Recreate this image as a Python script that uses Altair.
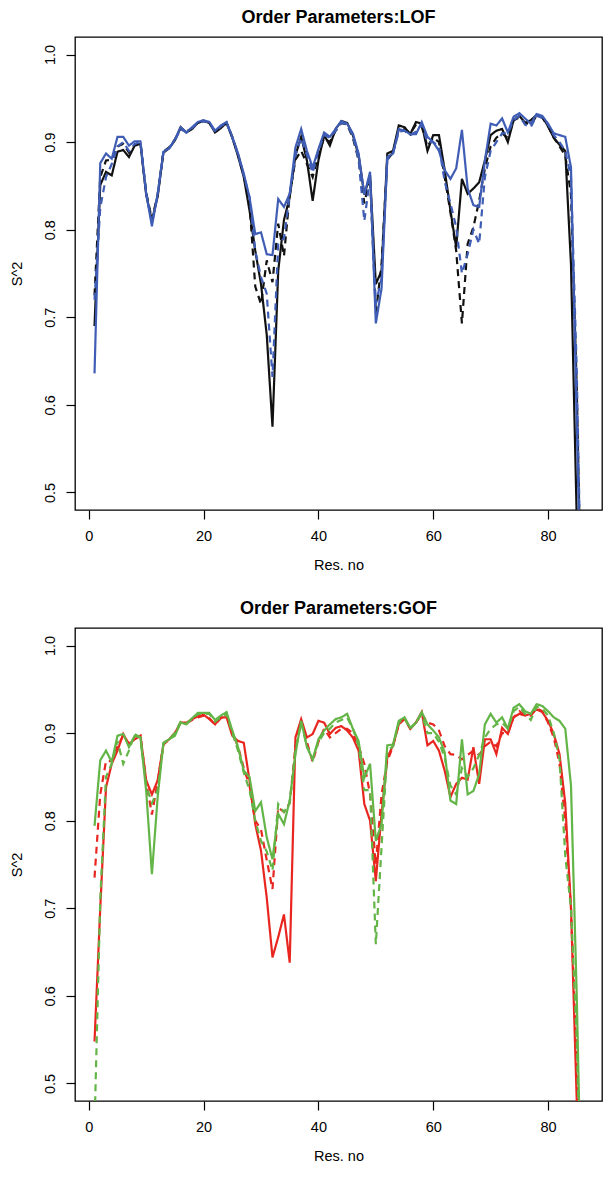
import altair as alt
import pandas as pd

res = list(range(1, 87))

lof_black_solid = [
    0.690, 0.851, 0.866, 0.862, 0.889, 0.891, 0.883, 0.896, 0.898, 0.840,
    0.810, 0.838, 0.888, 0.893, 0.902, 0.917, 0.911, 0.915, 0.922, 0.924,
    0.922, 0.911, 0.916, 0.922, 0.905, 0.884, 0.860, 0.822, 0.776, 0.738,
    0.680, 0.575, 0.753, 0.811, 0.837, 0.885, 0.906, 0.879, 0.833, 0.879,
    0.908, 0.896, 0.915, 0.924, 0.922, 0.908, 0.885, 0.840, 0.862, 0.738,
    0.753, 0.887, 0.890, 0.919, 0.917, 0.909, 0.923, 0.921, 0.890, 0.908,
    0.908, 0.868, 0.822, 0.780, 0.858, 0.841, 0.847, 0.854, 0.879, 0.908,
    0.913, 0.915, 0.900, 0.925, 0.930, 0.922, 0.925, 0.931, 0.929, 0.918,
    0.905, 0.897, 0.890, 0.760, 0.470, 0.300]
lof_black_dashed = [
    0.725, 0.860, 0.879, 0.880, 0.895, 0.898, 0.888, 0.897, 0.899, 0.842,
    0.812, 0.840, 0.889, 0.894, 0.903, 0.916, 0.912, 0.916, 0.922, 0.925,
    0.922, 0.912, 0.917, 0.922, 0.906, 0.886, 0.862, 0.830, 0.735, 0.715,
    0.765, 0.740, 0.807, 0.770, 0.840, 0.880, 0.890, 0.875, 0.860, 0.885,
    0.905, 0.900, 0.913, 0.922, 0.920, 0.905, 0.880, 0.830, 0.860, 0.705,
    0.760, 0.880, 0.888, 0.915, 0.915, 0.910, 0.920, 0.918, 0.895, 0.905,
    0.900, 0.860, 0.820, 0.776, 0.693, 0.784, 0.803, 0.833, 0.870, 0.895,
    0.905, 0.910, 0.905, 0.925, 0.928, 0.922, 0.920, 0.930, 0.928, 0.918,
    0.905, 0.895, 0.885, 0.840, 0.620, 0.300]
lof_blue_solid = [
    0.636, 0.876, 0.887, 0.881, 0.906, 0.906, 0.896, 0.901, 0.901, 0.841,
    0.804, 0.841, 0.889, 0.893, 0.903, 0.917, 0.911, 0.917, 0.923, 0.925,
    0.923, 0.913, 0.919, 0.923, 0.906, 0.887, 0.864, 0.837, 0.795, 0.797,
    0.772, 0.771, 0.835, 0.826, 0.841, 0.894, 0.915, 0.890, 0.871, 0.892,
    0.911, 0.906, 0.915, 0.924, 0.921, 0.910, 0.887, 0.840, 0.866, 0.693,
    0.733, 0.883, 0.887, 0.915, 0.913, 0.909, 0.909, 0.923, 0.906, 0.900,
    0.890, 0.868, 0.858, 0.870, 0.914, 0.847, 0.828, 0.826, 0.879, 0.921,
    0.919, 0.927, 0.911, 0.929, 0.933, 0.927, 0.921, 0.932, 0.930, 0.921,
    0.910, 0.908, 0.906, 0.871, 0.580, 0.300]
lof_blue_dashed = [
    0.720, 0.825, 0.860, 0.875, 0.895, 0.900, 0.890, 0.898, 0.900, 0.842,
    0.808, 0.840, 0.888, 0.893, 0.902, 0.915, 0.911, 0.916, 0.922, 0.924,
    0.922, 0.912, 0.918, 0.922, 0.905, 0.886, 0.862, 0.837, 0.776, 0.746,
    0.727, 0.632, 0.784, 0.790, 0.840, 0.885, 0.905, 0.885, 0.865, 0.890,
    0.908, 0.905, 0.913, 0.922, 0.920, 0.907, 0.880, 0.810, 0.860, 0.715,
    0.745, 0.880, 0.887, 0.912, 0.913, 0.908, 0.912, 0.920, 0.900, 0.900,
    0.895, 0.855, 0.830, 0.803, 0.750, 0.772, 0.800, 0.784, 0.860, 0.890,
    0.900, 0.910, 0.910, 0.925, 0.930, 0.920, 0.917, 0.930, 0.928, 0.920,
    0.908, 0.900, 0.890, 0.860, 0.640, 0.300]

gof_red_solid = [
    0.548, 0.700, 0.838, 0.865, 0.880, 0.899, 0.887, 0.893, 0.897, 0.846,
    0.830, 0.846, 0.887, 0.893, 0.900, 0.912, 0.912, 0.916, 0.919, 0.921,
    0.916, 0.910, 0.918, 0.918, 0.897, 0.891, 0.889, 0.846, 0.796, 0.766,
    0.712, 0.644, 0.667, 0.693, 0.638, 0.895, 0.916, 0.895, 0.899, 0.914,
    0.912, 0.899, 0.906, 0.908, 0.903, 0.895, 0.880, 0.819, 0.800, 0.731,
    0.808, 0.872, 0.886, 0.910, 0.917, 0.905, 0.912, 0.924, 0.886, 0.891,
    0.880, 0.857, 0.827, 0.842, 0.849, 0.847, 0.884, 0.842, 0.893, 0.893,
    0.876, 0.906, 0.899, 0.918, 0.922, 0.920, 0.922, 0.927, 0.924, 0.914,
    0.899, 0.876, 0.820, 0.700, 0.480, 0.300]
gof_red_dashed = [
    0.735, 0.830, 0.868, 0.868, 0.885, 0.897, 0.888, 0.893, 0.897, 0.845,
    0.807, 0.845, 0.887, 0.893, 0.900, 0.912, 0.911, 0.915, 0.918, 0.920,
    0.917, 0.910, 0.917, 0.920, 0.900, 0.885, 0.860, 0.840, 0.800, 0.790,
    0.755, 0.722, 0.815, 0.810, 0.820, 0.885, 0.913, 0.890, 0.867, 0.890,
    0.905, 0.895, 0.900, 0.905, 0.905, 0.900, 0.885, 0.865, 0.830, 0.750,
    0.830, 0.868, 0.885, 0.910, 0.916, 0.905, 0.912, 0.922, 0.912, 0.910,
    0.903, 0.885, 0.876, 0.875, 0.870, 0.875, 0.880, 0.875, 0.885, 0.890,
    0.885, 0.900, 0.900, 0.918, 0.925, 0.920, 0.920, 0.928, 0.925, 0.912,
    0.895, 0.865, 0.800, 0.700, 0.520, 0.300]
gof_green_solid = [
    0.794, 0.869, 0.880, 0.867, 0.897, 0.899, 0.884, 0.897, 0.895, 0.834,
    0.739, 0.827, 0.889, 0.893, 0.897, 0.912, 0.910, 0.917, 0.923, 0.923,
    0.923, 0.915, 0.920, 0.924, 0.903, 0.884, 0.857, 0.850, 0.811, 0.821,
    0.781, 0.756, 0.808, 0.796, 0.823, 0.876, 0.914, 0.884, 0.870, 0.893,
    0.903, 0.910, 0.916, 0.918, 0.922, 0.905, 0.891, 0.849, 0.865, 0.777,
    0.796, 0.886, 0.887, 0.914, 0.918, 0.906, 0.912, 0.924, 0.910, 0.903,
    0.895, 0.878, 0.823, 0.819, 0.893, 0.830, 0.834, 0.853, 0.910, 0.922,
    0.912, 0.918, 0.905, 0.929, 0.933, 0.925, 0.922, 0.933, 0.931, 0.925,
    0.918, 0.914, 0.905, 0.840, 0.600, 0.300]
gof_green_dashed = [
    0.450, 0.710, 0.850, 0.865, 0.891, 0.865, 0.880, 0.899, 0.895, 0.840,
    0.820, 0.835, 0.888, 0.893, 0.900, 0.913, 0.911, 0.916, 0.922, 0.922,
    0.922, 0.913, 0.918, 0.922, 0.900, 0.880, 0.855, 0.835, 0.800, 0.777,
    0.765, 0.743, 0.819, 0.810, 0.820, 0.880, 0.912, 0.885, 0.870, 0.890,
    0.900, 0.905, 0.912, 0.915, 0.918, 0.905, 0.885, 0.835, 0.835, 0.659,
    0.770, 0.880, 0.885, 0.912, 0.917, 0.905, 0.912, 0.922, 0.900, 0.900,
    0.890, 0.872, 0.840, 0.830, 0.860, 0.850, 0.860, 0.875, 0.895, 0.905,
    0.910, 0.912, 0.905, 0.925, 0.930, 0.922, 0.915, 0.930, 0.928, 0.920,
    0.900, 0.870, 0.760, 0.700, 0.550, 0.300]

x_ticks = [0, 20, 40, 60, 80]
y_ticks = [0.5, 0.6, 0.7, 0.8, 0.9, 1.0]

FONT = "Liberation Sans"
BLACK = "#111111"
BLUE = "#3f5db5"
RED = "#e8261f"
GREEN = "#62b546"

W, H = 527, 473

xs = alt.Scale(domain=[-2.4, 89.4], nice=False, zero=False)
ys = alt.Scale(domain=[0.48, 1.02], nice=False, zero=False)

AX = dict(grid=False, domain=False, tickSize=9, tickColor="black", tickWidth=1.2,
          labelFont=FONT, titleFont=FONT, labelFontSize=14.5, titleFontSize=14.5,
          titleFontWeight="normal", labelColor="black", titleColor="black",
          labelFlush=False)

x_axis = alt.Axis(values=x_ticks, title="Res. no", labelPadding=10,
                  titlePadding=16, **AX)
y_axis = alt.Axis(values=y_ticks, format=".1f", title="S^2",
                  labelAngle=270, labelAlign="center", labelBaseline="bottom",
                  labelPadding=9, titlePadding=18, **AX)


def line_layer(vals, color, dashed):
    df = pd.DataFrame({"res": res, "s2": vals})
    mk = alt.Chart(df).mark_line(
        clip=True, color=color, strokeWidth=2.2,
        strokeDash=[7, 5] if dashed else [1, 0],
    )
    return mk.encode(
        x=alt.X("res:Q", scale=xs, axis=x_axis),
        y=alt.Y("s2:Q", scale=ys, axis=y_axis),
    )


def panel(title, specs):
    layers = [line_layer(v, c, d) for v, c, d in specs]
    return alt.layer(*layers).properties(
        width=W, height=H,
        title=alt.TitleParams(title, font=FONT, fontSize=18, fontWeight="bold",
                              color="black", offset=10, anchor="middle"),
    )


top = panel("Order Parameters:LOF", [
    (lof_black_solid, BLACK, False),
    (lof_black_dashed, BLACK, True),
    (lof_blue_solid, BLUE, False),
    (lof_blue_dashed, BLUE, True),
])
bottom = panel("Order Parameters:GOF", [
    (gof_red_solid, RED, False),
    (gof_red_dashed, RED, True),
    (gof_green_solid, GREEN, False),
    (gof_green_dashed, GREEN, True),
])

chart = alt.vconcat(top, bottom, spacing=26).properties(
    padding={"left": 0, "top": 0, "right": 0, "bottom": 0},
    background="white",
).configure_view(
    stroke="black", strokeWidth=1.3
)

chart.save("out.html", embed_options={"renderer": "svg", "actions": False})
